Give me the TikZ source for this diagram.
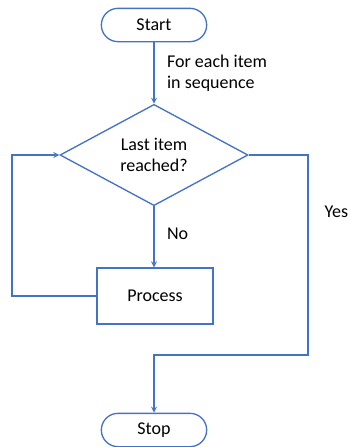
\documentclass[tikz,border=0pt]{standalone}
\usepackage{fontspec}
\setmainfont{Carlito}
\usetikzlibrary{shapes.geometric, arrows, positioning}
\definecolor{flowblue}{RGB}{68, 114, 196}

\begin{document}
\begin{tikzpicture}[
    x=0.75pt, y=-0.75pt,
    terminal/.style={rectangle, draw=flowblue, line width=1pt, rounded corners=12.5pt, minimum width=79pt, minimum height=25pt, align=center, font=\fontsize{13.5}{16}\selectfont},
    decision/.style={diamond, draw=flowblue, line width=1pt, minimum width=141pt, minimum height=63pt, inner sep=0pt, align=center, font=\fontsize{13.5}{16}\selectfont},
    process/.style={rectangle, draw=flowblue, line width=1pt, minimum width=87pt, minimum height=42pt, align=center, font=\fontsize{13.5}{16}\selectfont},
    label/.style={align=left, font=\fontsize{13.5}{16}\selectfont},
    line/.style={draw=flowblue, line width=1pt},
    arrow/.style={->, >=stealth, draw=flowblue, line width=1pt}
]
    \useasboundingbox (0, 0) rectangle (347, 447);

    % Flowchart nodes
    \node[terminal] (start) at (154, 25) {Start};
    \node[decision] (check) at (154, 155) {Last item\\reached?};
    \node[process] (proc) at (155, 296) {Process};
    \node[terminal] (stop) at (154, 430) {Stop};

    % Corner points of the connectors
    \coordinate (loopbot) at (12, 296);
    \coordinate (looptop) at (12, 155);
    \coordinate (yestop) at (308, 155);
    \coordinate (yesbot) at (308, 355);
    \coordinate (merge) at (154, 355);

    % Arrows
    \draw[arrow] (start) -- (check.north)
        node[midway, right=6pt, label] {For each item\\in sequence};
    \draw[arrow] (check.south) -- (proc.north -| check.south)
        node[pos=0.45, right=6pt, label] {No};
    \draw[arrow] (proc.west) -- (loopbot) -- (looptop) -- (check.west);
    \draw[arrow] (check.east) -- (yestop) -- (yesbot) -- (merge) -- (stop.north);

    % Yes label
    \node[label, anchor=west] (yes) at (320, 212) {Yes};
\end{tikzpicture}
\end{document}
